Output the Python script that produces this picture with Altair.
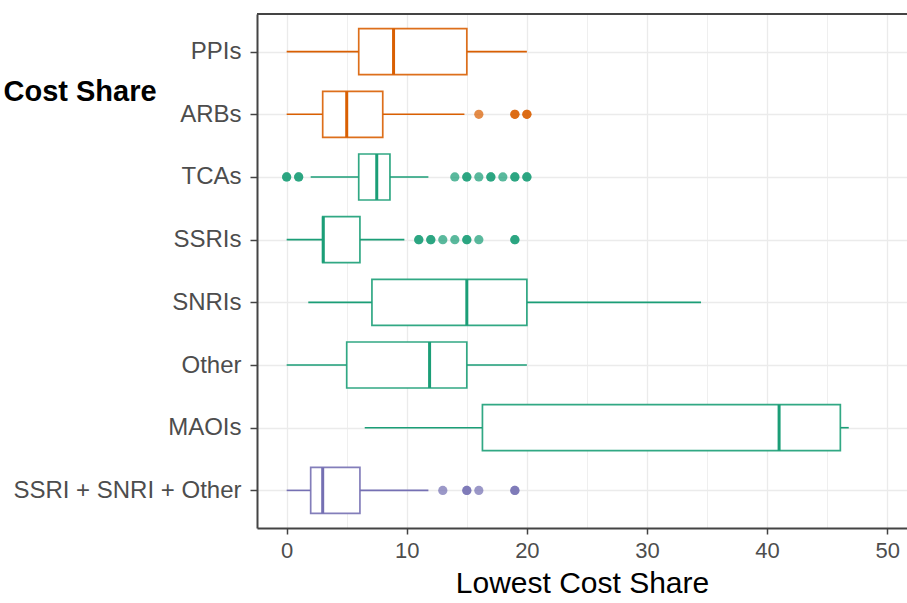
import altair as alt
import pandas as pd

# ---- data ----
categories = ["PPIs", "ARBs", "TCAs", "SSRIs", "SNRIs", "Other", "MAOIs", "SSRI + SNRI + Other"]
groups = ["PPI", "ARB", "Antidepressant", "Antidepressant", "Antidepressant",
          "Antidepressant", "Antidepressant", "Combination"]
whisker_low = [0, 0, 2.0, 0, 1.8, 0, 6.5, 0]
q1 = [6, 3, 6, 3, 7.1, 5, 16.3, 2]
median = [8.9, 5, 7.5, 3.05, 15, 11.9, 41, 3]
q3 = [15, 8, 8.6, 6.1, 20, 15, 46.1, 6.1]
whisker_high = [20, 14.8, 11.8, 9.8, 34.5, 20, 46.8, 11.8]

outlier_category = (["ARBs"] * 5
                    + ["TCAs"] * 15
                    + ["SSRIs"] * 11
                    + ["SSRI + SNRI + Other"] * 6)
outlier_value = ([16, 19, 19, 20, 20]
                 + [0, 0, 1, 1, 14, 15, 15, 16, 17, 17, 18, 19, 19, 20, 20]
                 + [11, 11, 12, 12, 13, 14, 15, 15, 16, 19, 19]
                 + [13, 15, 15, 16, 19, 19])

group_domain = ["PPI", "ARB", "Antidepressant", "Combination"]
group_colors = ["#D95F02", "#D95F02", "#1B9E77", "#7570B3"]

FONT = "Liberation Sans"

boxes = pd.DataFrame({
    "category": categories, "group": groups,
    "lo": whisker_low, "q1": q1, "med": median, "q3": q3, "hi": whisker_high,
})
cat_group = dict(zip(categories, groups))
outl = pd.DataFrame({"category": outlier_category, "value": outlier_value})
outl["group"] = outl["category"].map(cat_group)

W, H = 650, 514

x_scale = alt.Scale(domain=[-2.47, 51.65], nice=False, zero=False)
y_scale = alt.Scale(type="point", domain=categories, padding=0.6)
col_scale = alt.Scale(domain=group_domain, range=group_colors)

x_axis = alt.Axis(
    values=list(range(0, 51, 5)),
    labelExpr="datum.value % 10 === 0 ? datum.label : ''",
    labelOverlap=False, labelFlush=False,
    tickOpacity={"condition": {"test": "datum.value % 10 !== 0", "value": 0}, "value": 1},
    gridWidth={"condition": {"test": "datum.value % 10 !== 0", "value": 0.8}, "value": 1.3},
    labelFontSize=22, labelColor="#4D4D4D", tickSize=6, tickWidth=1.5, labelPadding=6,
    domainWidth=2, titleFontSize=30, titleColor="black", titleFontWeight="normal",
    titlePadding=7,
)
y_axis = alt.Axis(
    labelFontSize=24, labelColor="#4D4D4D", tickSize=7, tickWidth=1.5, labelPadding=9,
    labelLimit=0,
    domainWidth=2, grid=True, gridWidth=1.3,
    titleAngle=0, titleAlign="left", titleBaseline="alphabetic",
    titleX=-254, titleY=86, titleFontSize=29, titleFontWeight="bold", titleColor="black",
)


def X(field):
    return alt.X(field, type="quantitative", scale=x_scale, axis=x_axis, title="Lowest Cost Share")


def Y():
    return alt.Y("category:N", scale=y_scale, axis=y_axis, title="Cost Share")


stroke = alt.Stroke("group:N", scale=col_scale, legend=None)
colr = alt.Color("group:N", scale=col_scale, legend=None)

base = alt.Chart(boxes)

whisk_lo = base.mark_rule(strokeWidth=1.6).encode(x=X("lo"), x2="q1:Q", y=Y(), color=colr)
whisk_hi = base.mark_rule(strokeWidth=1.6).encode(x=X("q3"), x2="hi:Q", y=Y(), color=colr)
box = base.mark_bar(size=46, fill="white", strokeWidth=1.7, strokeOpacity=0.9).encode(
    x=X("q1"), x2="q3:Q", y=Y(), stroke=stroke)
med = base.mark_tick(size=46, thickness=3, opacity=1).encode(x=X("med"), y=Y(), color=colr)
pts = alt.Chart(outl).mark_circle(size=85, opacity=0.72).encode(x=X("value"), y=Y(), color=colr)

top_border = alt.Chart(pd.DataFrame({"k": [0]})).mark_rule(color="#444", strokeWidth=2).encode(
    x=alt.value(0), x2=alt.value(W), y=alt.value(0))

chart = alt.layer(whisk_lo, whisk_hi, box, med, pts, top_border).properties(
    width=W, height=H,
    autosize=alt.AutoSizeParams(type="none"),
    padding={"left": 257, "top": 14, "right": 0, "bottom": 75},
    background="white",
).configure_axis(
    labelFont=FONT, titleFont=FONT, gridColor="#EBEBEB", domainColor="#444", tickColor="#444",
).configure_view(strokeWidth=0)

chart.save("out.html", embed_options={"renderer": "svg", "actions": False})
